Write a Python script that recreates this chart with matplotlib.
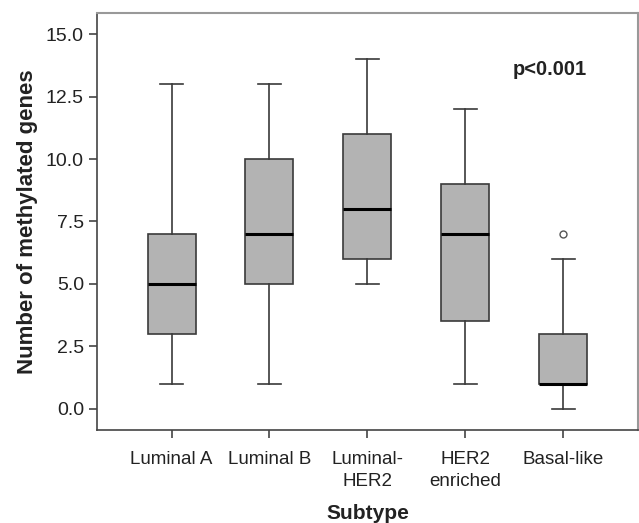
import matplotlib
matplotlib.use("Agg")
import matplotlib.pyplot as plt

plt.rcParams['font.family'] = ['Liberation Sans', 'DejaVu Sans']

categories = ["Luminal A", "Luminal B", "Luminal-\nHER2", "HER2\nenriched", "Basal-like"]
whislo = [1, 1, 5, 1, 0]
q1 = [3, 5, 6, 3.5, 1]
med = [5, 7, 8, 7, 1]
q3 = [7, 10, 11, 9, 3]
whishi = [13, 13, 14, 12, 6]
fliers = [[], [], [], [], [7]]
yticks = [0.0, 2.5, 5.0, 7.5, 10.0, 12.5, 15.0]

stats = []
for i, c in enumerate(categories):
    stats.append(dict(label=c, whislo=whislo[i], q1=q1[i], med=med[i],
                      q3=q3[i], whishi=whishi[i], fliers=fliers[i]))

fig = plt.figure(figsize=(6.39, 5.23), dpi=100)
ax = fig.add_axes([0.152, 0.178, 0.846, 0.797])

edge = '#3a3a3a'
ax.bxp(stats, positions=range(1, 6), widths=0.49, patch_artist=True,
       boxprops=dict(facecolor='#b3b3b3', edgecolor=edge, linewidth=1.2),
       medianprops=dict(color='black', linewidth=2.2),
       whiskerprops=dict(color=edge, linewidth=1.2),
       capprops=dict(color=edge, linewidth=1.2),
       capwidths=0.24,
       flierprops=dict(marker='o', markerfacecolor='white', markeredgecolor='#555555',
                       markersize=5, markeredgewidth=1.0))

ax.set_xlim(0.24, 5.76)
ax.set_ylim(-0.84, 15.84)
ax.set_yticks(yticks)
ax.set_yticklabels([f"{v:.1f}" for v in yticks], fontsize=14, color='#222222')
ax.set_xticklabels(categories, fontsize=13.5, color='#222222', linespacing=1.42)
ax.tick_params(axis='both', direction='out', length=6, width=1.2, color='#444444')
ax.tick_params(axis='x', pad=9)

for s in ['left', 'bottom']:
    ax.spines[s].set_color('#444444')
    ax.spines[s].set_linewidth(1.2)
for s in ['top', 'right']:
    ax.spines[s].set_color('#999999')
    ax.spines[s].set_linewidth(1.5)

ax.set_ylabel("Number of methylated genes", fontsize=16, fontweight='bold', color='#222222', labelpad=6)
ax.set_xlabel("Subtype", fontsize=15, fontweight='bold', color='#222222', labelpad=10)

ax.text(4.86, 13.6, "p<0.001", fontsize=14.5, fontweight='bold', ha='center', va='center', color='#222222')

fig.savefig("out.png", dpi=100)
